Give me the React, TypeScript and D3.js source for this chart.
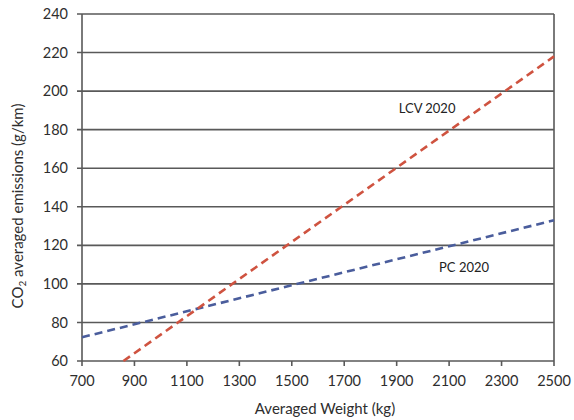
import React, { useEffect, useRef } from 'react';
import * as d3 from 'd3';

const xTicks = [700, 900, 1100, 1300, 1500, 1700, 1900, 2100, 2300, 2500];
const yTicks = [60, 80, 100, 120, 140, 160, 180, 200, 220, 240];

// end points of the two fitted lines [weight, emissions]
const lcvLine = [[858, 60], [2500, 218]];
const pcLine = [[700, 72.3], [2500, 133]];

const W = 574, H = 420;
const margin = { left: 82, right: 20, top: 14, bottom: 59 };

export default function App() {
  const ref = useRef<SVGSVGElement | null>(null);

  useEffect(() => {
    const svg = d3.select(ref.current);
    svg.selectAll('*').remove();

    const x = d3.scaleLinear().domain([700, 2500]).range([margin.left, W - margin.right]);
    const y = d3.scaleLinear().domain([60, 240]).range([H - margin.bottom, margin.top]);
    const font = 'Lato, "Open Sans", sans-serif';
    const gridColor = '#595959';
    const textColor = '#2e2e2e';

    // horizontal gridlines (with small ticks left of the axis)
    svg.selectAll('.grid').data(yTicks).enter()
      .append('line')
        .attr('x1', margin.left - 5)
        .attr('x2', W - margin.right)
        .attr('y1', d => y(d))
        .attr('y2', d => y(d))
        .attr('stroke', gridColor)
        .attr('stroke-width', 1.6);

    // left and right borders
    [700, 2500].forEach(v => {
      svg.append('line')
        .attr('x1', x(v)).attr('x2', x(v))
        .attr('y1', y(240)).attr('y2', y(60))
        .attr('stroke', gridColor)
        .attr('stroke-width', 1.6);
    });

    // x ticks
    svg.selectAll('.xtick').data(xTicks).enter()
      .append('line')
        .attr('x1', d => x(d)).attr('x2', d => x(d))
        .attr('y1', y(60)).attr('y2', y(60) + 5)
        .attr('stroke', gridColor)
        .attr('stroke-width', 1.6);

    svg.selectAll('.ylab').data(yTicks).enter()
      .append('text')
        .attr('x', margin.left - 14)
        .attr('y', d => y(d))
        .attr('dy', '0.35em')
        .attr('text-anchor', 'end')
        .attr('font-family', font)
        .attr('font-size', 14.5)
        .attr('fill', textColor)
        .text(d => d);

    svg.selectAll('.xlab').data(xTicks).enter()
      .append('text')
        .attr('x', d => x(d))
        .attr('y', y(60) + 25)
        .attr('text-anchor', 'middle')
        .attr('font-family', font)
        .attr('font-size', 14.5)
        .attr('fill', textColor)
        .text(d => d);

    const line = d3.line<number[]>().x(d => x(d[0])).y(d => y(d[1]));

    svg.append('path')
      .attr('d', line(pcLine))
      .attr('fill', 'none')
      .attr('stroke', '#4a5d9c')
      .attr('stroke-width', 2.6)
      .attr('stroke-dasharray', '8,5');

    svg.append('path')
      .attr('d', line(lcvLine))
      .attr('fill', 'none')
      .attr('stroke', '#cf5340')
      .attr('stroke-width', 2.6)
      .attr('stroke-dasharray', '8,5');

    svg.append('text')
      .attr('x', x(2016))
      .attr('y', y(188.5))
      .attr('text-anchor', 'middle')
      .attr('font-family', font)
      .attr('font-size', 13)
      .attr('fill', '#222')
      .text('LCV 2020');

    svg.append('text')
      .attr('x', x(2157))
      .attr('y', y(106))
      .attr('text-anchor', 'middle')
      .attr('font-family', font)
      .attr('font-size', 13)
      .attr('fill', '#222')
      .text('PC 2020');

    svg.append('text')
      .attr('x', 325)
      .attr('y', H - 6)
      .attr('text-anchor', 'middle')
      .attr('font-family', font)
      .attr('font-size', 15)
      .attr('fill', textColor)
      .text('Averaged Weight (kg)');

    const yt = svg.append('text')
      .attr('transform', `translate(23, 206) rotate(-90)`)
      .attr('text-anchor', 'middle')
      .attr('font-family', font)
      .attr('font-size', 15)
      .attr('fill', textColor);
    yt.append('tspan').text('CO');
    yt.append('tspan').attr('font-size', 10).attr('dy', 3).text('2');
    yt.append('tspan').attr('dy', -3).text(' averaged emissions (g/km)');
  }, []);

  return (
    <svg ref={ref} width={W} height={H}
         style={{ position: 'absolute', left: 0, top: 0, background: '#fff' }} />
  );
}
